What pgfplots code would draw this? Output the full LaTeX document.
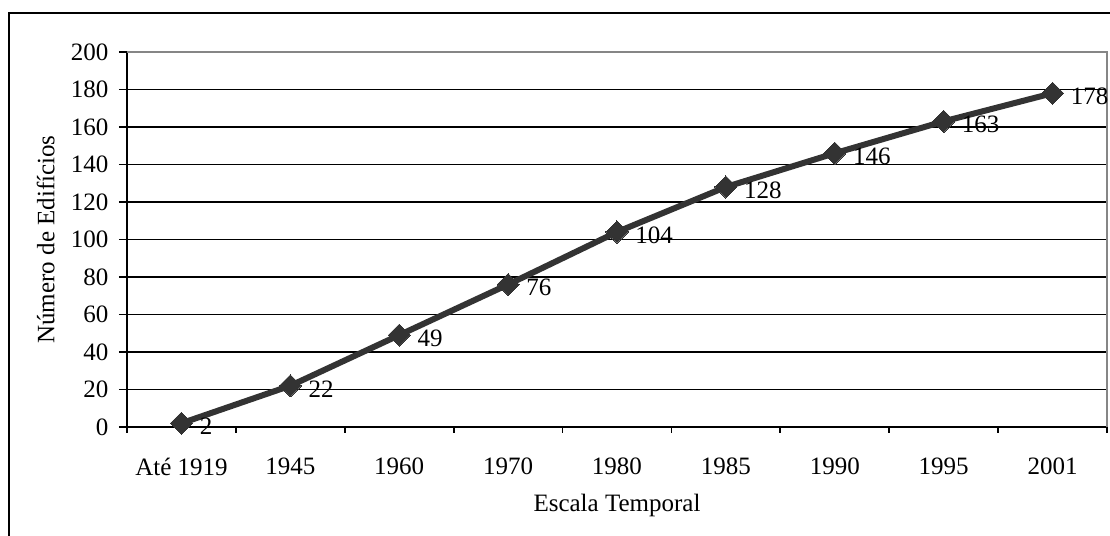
\documentclass[border=0pt]{standalone}
\usepackage{fontspec}
\setmainfont{Liberation Serif}
\usepackage{pgfplots}
\pgfplotsset{compat=1.18}
\definecolor{linec}{RGB}{51,51,51}
\definecolor{bordc}{RGB}{134,134,134}
\newcommand{\ff}{\fontsize{12.5}{14}\selectfont}
\begin{document}
\ff
\begin{tikzpicture}
\useasboundingbox (0,0) rectangle (555pt,268pt);
\draw[line width=1.2pt, black] (4.5pt,-2pt) -- (4.5pt,261.5pt) -- (560pt,261.5pt);
\begin{axis}[
  at={(63.5pt,54.5pt)}, anchor=south west,
  scale only axis, width=490pt, height=187.5pt,
  xmin=-0.5, xmax=8.5, ymin=0, ymax=200,
  axis lines=left, axis line style={-, line width=0.9pt, black},
  xtick={0,1,2,3,4,5,6,7,8},
  xticklabels={Até 1919,1945,1960,1970,1980,1985,1990,1995,2001},
  minor xtick={-0.5,0.5,...,8.5},
  ytick={0,20,...,200},
  major x tick style={draw=none},
  minor x tick style={line width=0.9pt, black},
  y tick style={line width=0.9pt, black},
  tick align=outside,
  minor tick length=3pt, major tick length=4pt,
  ymajorgrids, major grid style={line width=0.6pt, black},
  /pgf/number format/assume math mode=true,
  tick label style={font=\ff},
  xticklabel style={yshift=-7pt},
  yticklabel style={xshift=-1pt},
  xlabel={Escala Temporal}, ylabel={Número de Edifícios},
  xlabel style={yshift=-1pt},
  ylabel style={yshift=-0.5pt},
  label style={font=\ff},
  clip=false,
  nodes near coords,
  every node near coord/.append style={anchor=west, xshift=5pt, yshift=-1.5pt, font=\ff, text=black},
]
\draw[bordc, line width=1pt] (rel axis cs:0,1) -- (rel axis cs:1,1) -- (rel axis cs:1,0);
\addplot[linec, line width=3pt, mark=square*, mark size=3.9pt, mark options={rotate=45, fill=linec, draw=linec, line width=0pt}]
  coordinates {(0,2) (1,22) (2,49) (3,76) (4,104) (5,128) (6,146) (7,163) (8,178)};
\end{axis}
\end{tikzpicture}
\end{document}
